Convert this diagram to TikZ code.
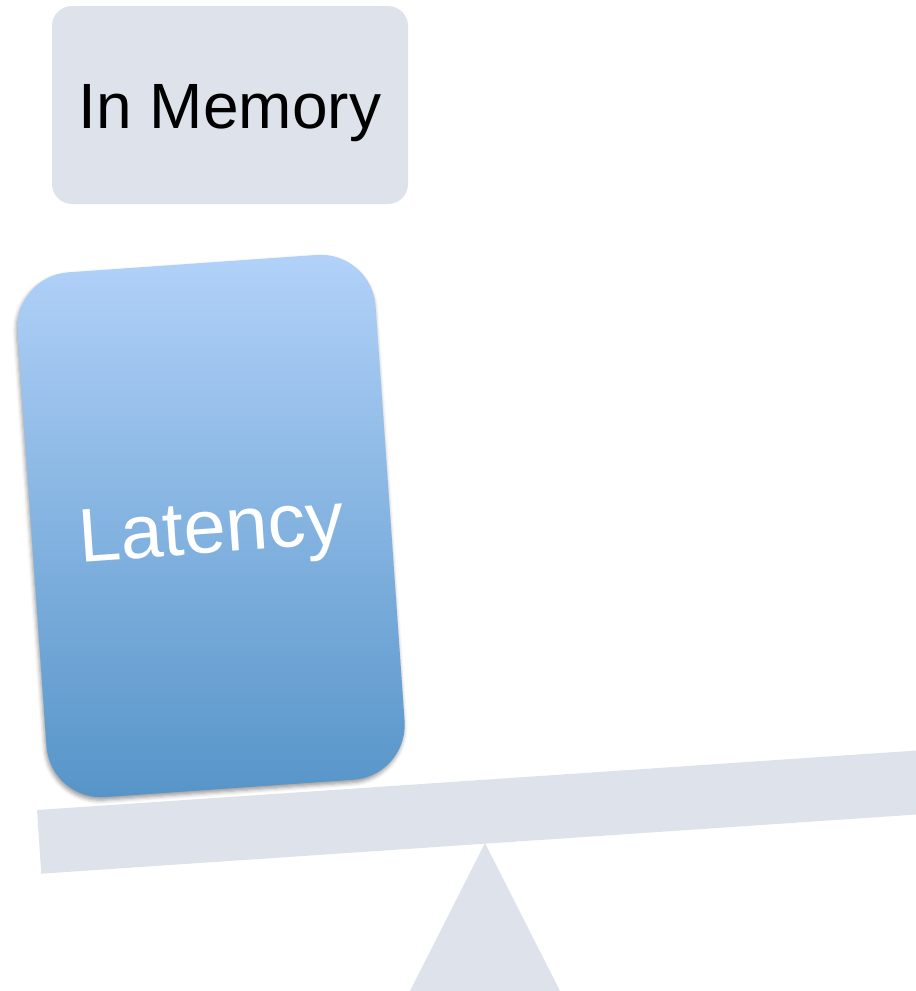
\documentclass[tikz,border=0pt]{standalone}
\usepackage{fontspec}
\setmainfont{Liberation Sans}
\usetikzlibrary{shadows.blur}
\definecolor{panel}{RGB}{222,226,235}
\definecolor{weighttop}{RGB}{178,210,249}
\definecolor{weightbottom}{RGB}{86,148,200}
\begin{document}
\begin{tikzpicture}[x=1pt,y=-1pt,
  labelbox/.style={fill=panel, rounded corners=20pt, minimum width=356pt,
    minimum height=198pt, inner sep=0pt, text height=46pt, text depth=0pt,
    font=\fontsize{64}{70}\selectfont},
  weightbox/.style={rounded corners=55pt, minimum width=359pt, minimum height=526pt,
    inner sep=0pt, text height=54pt, text depth=0pt,
    top color=weighttop, bottom color=weightbottom, text=white,
    font=\fontsize{76}{80}\selectfont, rotate=4,
    blur shadow={shadow xshift=-1pt, shadow yshift=-3pt,
      shadow blur radius=4pt, shadow opacity=40}},
  support/.style={fill=panel, draw=none},
]
\useasboundingbox (0,0) rectangle (916,991);
\clip (0,0) rectangle (916,991);

% fulcrum
\fill[support] (485,843) -- (595,1060) -- (375,1060) -- cycle;

% tilted beam
\fill[support] (37,810) -- (1035,742.5) -- (1039.3,806.2) -- (41.3,873.7) -- cycle;

% weight resting on the beam
\node[weightbox] (latency) at (211,526) {Latency};

% caption box
\node[labelbox] (memory) at (230,105) {In Memory};
\end{tikzpicture}
\end{document}
